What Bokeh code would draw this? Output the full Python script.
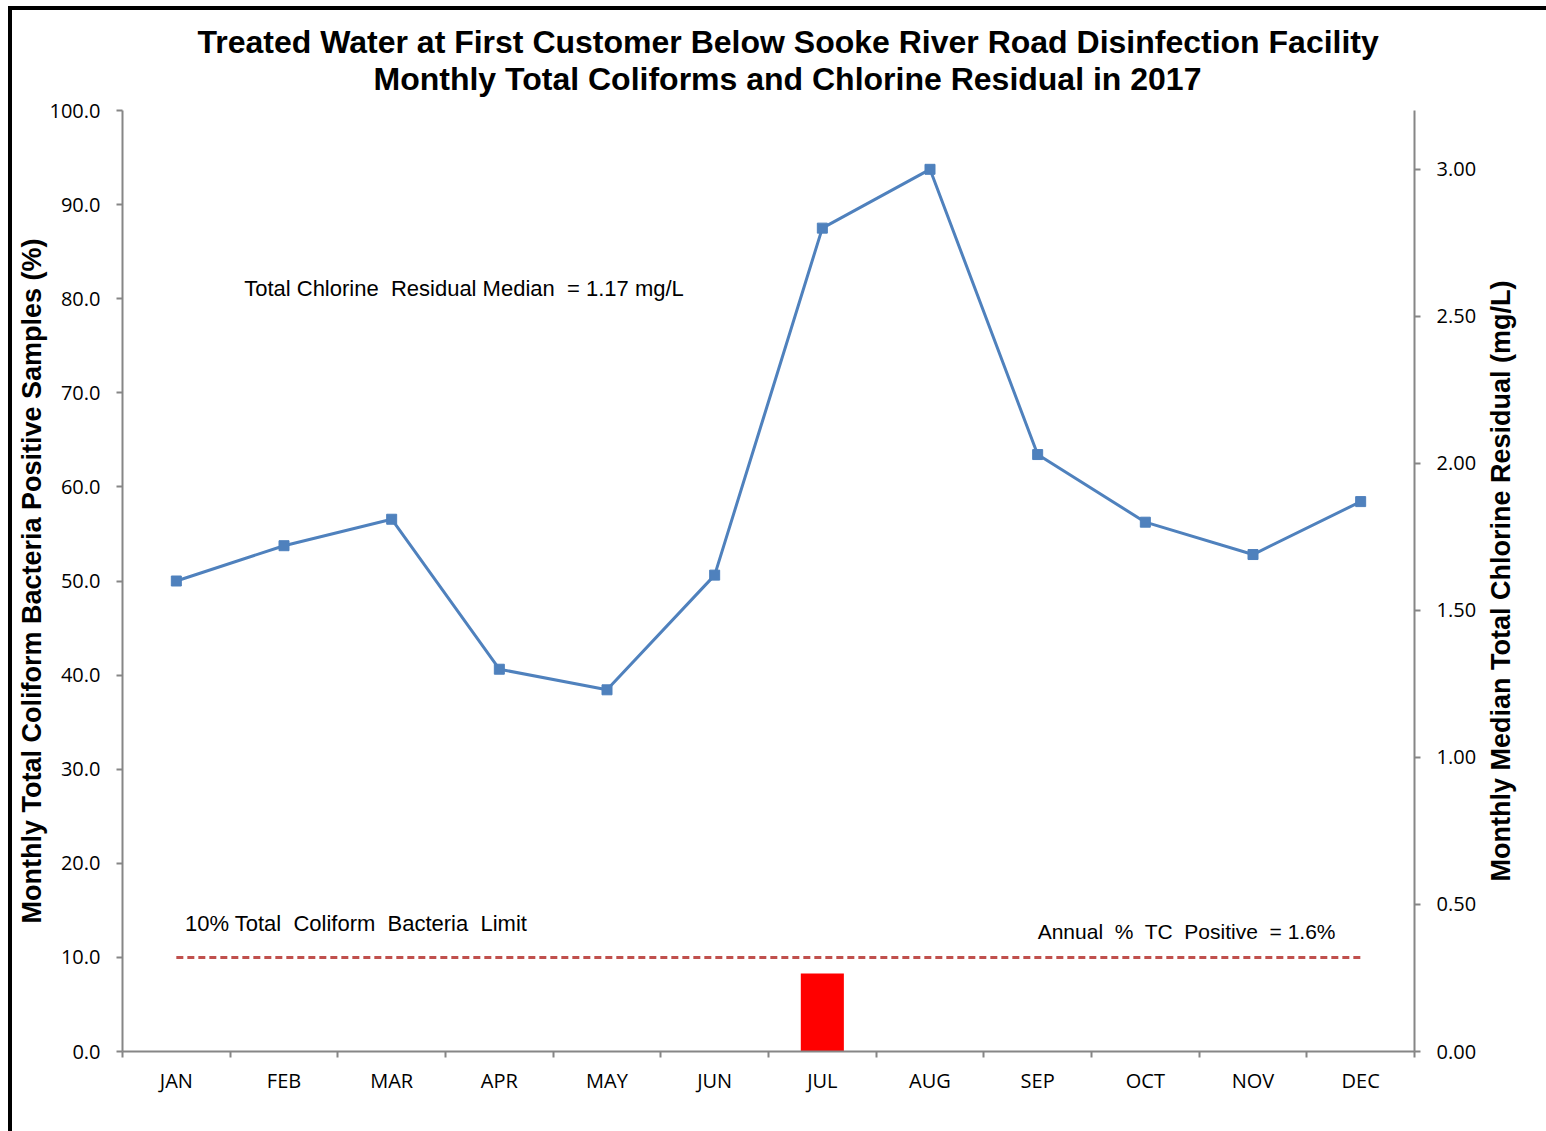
import math
from bokeh.plotting import figure
from bokeh.layouts import row
from bokeh.models import (Range1d, LinearAxis, FixedTicker, NumeralTickFormatter, Title)
from bokeh.core.properties import value
from bokeh.embed import file_html
from bokeh.resources import INLINE

months = ["JAN", "FEB", "MAR", "APR", "MAY", "JUN",
          "JUL", "AUG", "SEP", "OCT", "NOV", "DEC"]
# Monthly median total chlorine residual (mg/L)
chlorine = [1.60, 1.72, 1.81, 1.30, 1.23, 1.62, 2.80, 3.00, 2.03, 1.80, 1.69, 1.87]
# Monthly total coliform positive samples (%)
tc_positive = [0, 0, 0, 0, 0, 0, 8.3, 0, 0, 0, 0, 0]
tc_limit = 10.0
left_ticks = [0, 10, 20, 30, 40, 50, 60, 70, 80, 90, 100]
right_ticks = [0.0, 0.5, 1.0, 1.5, 2.0, 2.5, 3.0]

title_line1 = "Treated Water at First Customer Below Sooke River Road Disinfection Facility"
title_line2 = "Monthly Total Coliforms and Chlorine Residual in 2017"
left_label = "Monthly Total Coliform Bacteria Positive Samples (%)"
right_label = "Monthly Median Total Chlorine Residual (mg/L)"

centers = [i + 0.5 for i in range(len(months))]
edges = [float(i) for i in range(len(months) + 1)]

AXIS_GREY = "#868686"
TICK_FONT = "Open Sans"
LABEL_FONT = "Liberation Sans"
NB = "\u00a0"
FIG_H = 1124

p = figure(width=1472, height=FIG_H, x_range=Range1d(0, 12), y_range=Range1d(0, 100),
           output_backend="svg", toolbar_location=None, title=None,
           min_border_left=110, min_border_right=70, min_border_top=100,
           min_border_bottom=83)
p.outline_line_color = None
p.xgrid.visible = False
p.ygrid.visible = False

# Two-line heading
for txt, off, stand, lh in ((title_line2, 251, 27, 1.0), (title_line1, 75, -28, 1.2)):
    t = Title(text=txt, align="left", text_font=LABEL_FONT, text_font_size="32px",
              text_font_style="bold", text_color="black", offset=off, standoff=stand,
              text_line_height=lh)
    p.add_layout(t, "above")

p.extra_y_ranges = {"cl": Range1d(0, 3.2)}

# Bottom axis: month names centred, tick marks at month boundaries
xa = p.xaxis[0]
xa.ticker = FixedTicker(ticks=centers, minor_ticks=edges)
xa.major_label_overrides = {c: m for c, m in zip(centers, months)}
xa.major_tick_out = 0
xa.major_tick_in = 0
xa.minor_tick_out = 6
xa.minor_tick_in = 0
xa.minor_tick_line_color = AXIS_GREY
xa.minor_tick_line_width = 2
xa.axis_line_color = AXIS_GREY
xa.axis_line_width = 2
xa.major_label_text_font = TICK_FONT
xa.major_label_text_font_size = "20px"
xa.major_label_text_color = "black"
xa.major_label_standoff = 9

ya = p.yaxis[0]
ya.ticker = FixedTicker(ticks=left_ticks)
ya.formatter = NumeralTickFormatter(format="0.0")
ya.minor_tick_line_color = None
ya.major_tick_out = 6
ya.major_tick_in = 0
ya.major_tick_line_color = AXIS_GREY
ya.major_tick_line_width = 2
ya.axis_line_color = AXIS_GREY
ya.axis_line_width = 2
ya.major_label_text_font = TICK_FONT
ya.major_label_text_font_size = "20px"
ya.major_label_text_color = "black"
ya.major_label_standoff = 16
ya.axis_label = left_label
ya.axis_label_text_font = LABEL_FONT
ya.axis_label_text_font_size = "27px"
ya.axis_label_text_font_style = "bold"
ya.axis_label_text_color = "black"
ya.axis_label_standoff = 0

ra = LinearAxis(y_range_name="cl", ticker=FixedTicker(ticks=right_ticks),
                formatter=NumeralTickFormatter(format="0.00"))
ra.minor_tick_line_color = None
ra.major_tick_out = 6
ra.major_tick_in = 0
ra.major_tick_line_color = AXIS_GREY
ra.major_tick_line_width = 2
ra.axis_line_color = AXIS_GREY
ra.axis_line_width = 2
ra.major_label_text_font = TICK_FONT
ra.major_label_text_font_size = "20px"
ra.major_label_text_color = "black"
ra.major_label_standoff = 16
p.add_layout(ra, "right")

# Coliform positive bars
p.vbar(x=centers, top=tc_positive, width=0.4, bottom=0, fill_color="#FF0000",
       line_color=None)

# 10% regulatory limit
p.line(x=centers, y=[tc_limit] * len(centers), line_color="#C0504D", line_width=3,
       line_dash="7 4")

# Chlorine residual series
p.line(x=centers, y=chlorine, y_range_name="cl", line_color="#4F81BD", line_width=3)
p.scatter(x=centers, y=chlorine, y_range_name="cl", marker="square", size=10,
          fill_color="#4F81BD", line_color="#4F81BD")

ann_font = value(LABEL_FONT)
p.text(x=[1.13], y=[81.1],
       text=[f"Total Chlorine{NB} Residual Median{NB} = 1.17 mg/L"],
       text_font=ann_font, text_font_size="22px", text_color="black",
       text_baseline="middle", text_align="left")
p.text(x=[0.58], y=[13.6],
       text=[f"10% Total{NB} Coliform{NB} Bacteria{NB} Limit"],
       text_font=ann_font, text_font_size="22px", text_color="black",
       text_baseline="middle", text_align="left")
p.text(x=[11.27], y=[12.75],
       text=[f"Annual{NB} %{NB} TC{NB} Positive{NB} = 1.6%"],
       text_font=ann_font, text_font_size="21px", text_color="black",
       text_baseline="middle", text_align="right")

# Narrow strip on the right carrying the secondary axis title (reads bottom to top)
q = figure(width=62, height=FIG_H, x_range=Range1d(0, 1), y_range=Range1d(0, 1),
           output_backend="svg", toolbar_location=None, title=None,
           x_axis_location=None, y_axis_location=None,
           min_border=0, min_border_left=0, min_border_right=0,
           min_border_top=0, min_border_bottom=0)
q.outline_line_color = None
q.xgrid.visible = False
q.ygrid.visible = False
q.text(x=[0.26], y=[0.500], text=[right_label], angle=math.pi / 2,
       text_font=ann_font, text_font_size="27px", text_font_style="bold",
       text_color="black", text_align="center", text_baseline="middle")

page = row(p, q)
page.styles = {"border-left": "4px solid black", "border-top": "4px solid black",
               "border-bottom": "1px solid #d9d9d9",
               "margin-left": "8px", "margin-top": "6px"}

open("out.html", "w").write(file_html(page, INLINE))
